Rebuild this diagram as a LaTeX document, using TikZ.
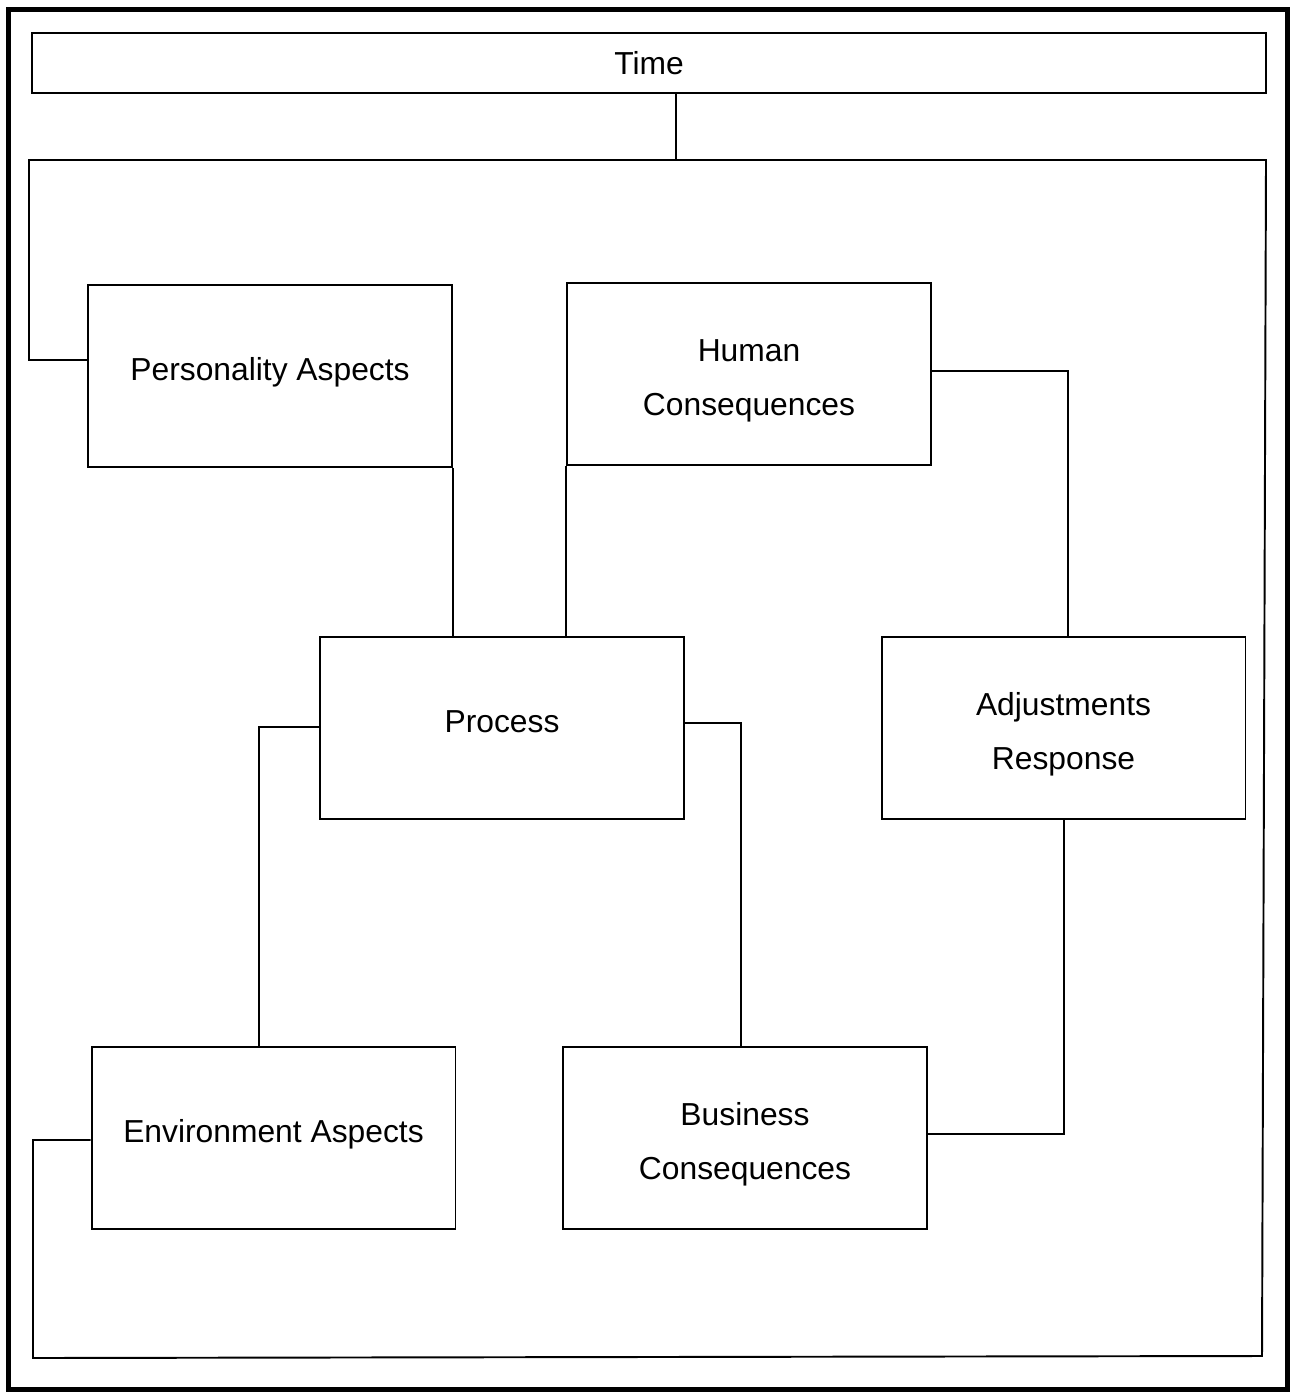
\documentclass[tikz,border=0pt]{standalone}
\usepackage{tikz}
\usepackage{fontspec}
\setmainfont{Liberation Sans}
\usetikzlibrary{positioning}

\tikzset{
    box/.style={draw, line width=1.1pt, minimum width=7.28cm, minimum height=3.64cm, align=center, inner sep=0pt, text height=13pt, text depth=8.4pt},
    twobox/.style={box, text height=50.5pt, text depth=},
    link/.style={line width=1.1pt},
}

\begin{document}
\begin{tikzpicture}[x=0.02cm, y=-0.02cm, font=\fontsize{18.1}{30.6}\selectfont]
                \useasboundingbox (0,0) rectangle (1290,1392);
                \draw[line width=0.1cm] (8.5,9.5) rectangle (1287,1389); % Frame

                % Nodes
                \node[draw, line width=1.1pt, minimum width=24.68cm, minimum height=1.2cm, inner sep=0pt] (time) at (649,63) {Time};
                \node[box] (pers) at (270,376) {Personality Aspects};
                \node[twobox] (human) at (749,374) {Human\\Consequences};
                \node[box] (proc) at (502,728) {Process};
                \node[twobox] (adj) at (1063.5,728) {Adjustments\\Response};
                \node[box] (env) at (273.5,1138) {Environment Aspects};
                \node[twobox] (bus) at (745,1138) {Business\\Consequences};

                % Bend points
                \coordinate (tj) at (676,160);  % under Time
                \coordinate (pl) at (29,360);   % left of Personality
                \coordinate (el) at (33,1140);  % left of Environment
                \coordinate (ha) at (1068,371); % right of Human
                \coordinate (ab) at (1064,1134); % right of Business
                \coordinate (pe) at (259,727);  % left of Process
                \coordinate (pb) at (741,723);  % right of Process

                % Edges
                \draw[link] (time.south -| tj) -- (tj);
                \draw[link] (pers.west |- pl) -- (pl) -- (29,160) -- (1266,160) -- (1262,1356) -- (33,1358) -- (el) -- (env.west |- el);
                \draw[link] (pers.south east) -- (pers.south east |- proc.north);
                \draw[link] (human.south west) -- (human.south west |- proc.north);
                \draw[link] (human.east |- ha) -- (ha) -- (ha |- adj.north);
                \draw[link] (adj.south -| ab) -- (ab) -- (ab -| bus.east);
                \draw[link] (proc.west |- pe) -- (pe) -- (pe |- env.north);
                \draw[link] (proc.east |- pb) -- (pb) -- (pb |- bus.north);
            \end{tikzpicture}
\end{document}
